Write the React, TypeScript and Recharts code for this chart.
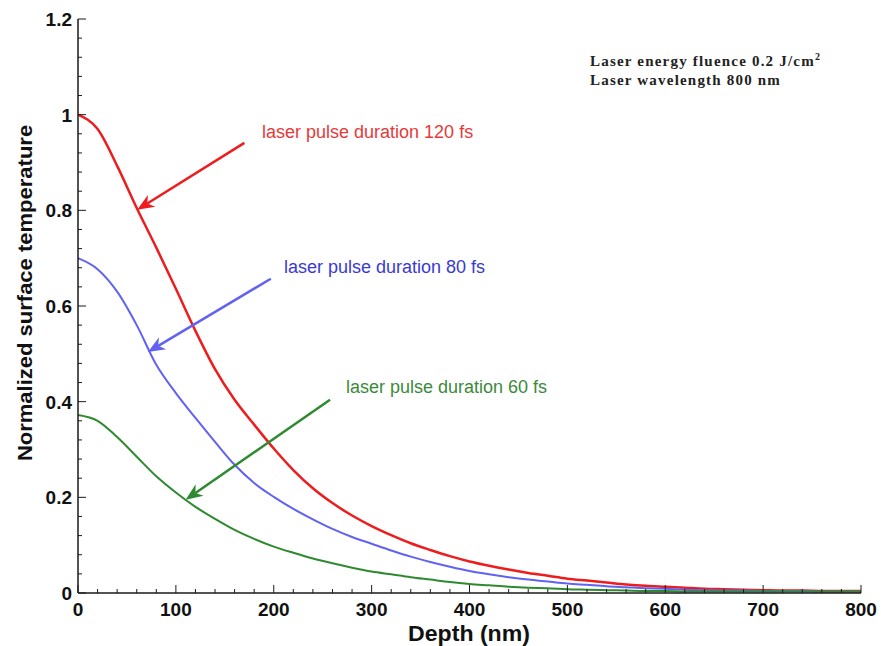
import React from 'react';
import { LineChart, Line, XAxis, YAxis, ReferenceLine } from 'recharts';

// depth grid (nm) and normalized surface temperature
const DEPTH = [
  0, 20, 40, 60, 80, 100, 120, 140, 160, 180, 200, 220, 240, 260, 280, 300, 320, 340, 360, 380, 400,
  420, 440, 460, 480, 500, 520, 540, 560, 580, 600, 620, 640, 660, 680, 700, 720, 740, 760, 780, 800,
];
const T120 = [
  1.0, 0.97, 0.893, 0.805, 0.722, 0.636, 0.548, 0.468, 0.404, 0.352, 0.302, 0.257, 0.219, 0.188, 0.162,
  0.14, 0.121, 0.104, 0.09, 0.077, 0.066, 0.057, 0.049, 0.042, 0.036, 0.03, 0.026, 0.022, 0.018, 0.015,
  0.013, 0.011, 0.009, 0.008, 0.007, 0.006, 0.005, 0.005, 0.004, 0.004, 0.004,
];
const T80 = [
  0.7, 0.677, 0.63, 0.56, 0.477, 0.418, 0.366, 0.316, 0.268, 0.23, 0.201, 0.176, 0.154, 0.134, 0.117,
  0.103, 0.089, 0.076, 0.065, 0.055, 0.046, 0.039, 0.033, 0.028, 0.024, 0.02, 0.017, 0.014, 0.012,
  0.01, 0.009, 0.007, 0.006, 0.005, 0.005, 0.004, 0.004, 0.004, 0.003, 0.003, 0.003,
];
const T60 = [
  0.372, 0.36, 0.326, 0.285, 0.244, 0.21, 0.18, 0.155, 0.132, 0.113, 0.097, 0.084, 0.072, 0.062, 0.053,
  0.045, 0.039, 0.033, 0.028, 0.023, 0.019, 0.016, 0.013, 0.011, 0.01, 0.008, 0.007, 0.006, 0.005,
  0.004, 0.004, 0.003, 0.003, 0.003, 0.003, 0.003, 0.003, 0.003, 0.003, 0.003, 0.003,
];

const X_MAJOR = [0, 100, 200, 300, 400, 500, 600, 700, 800];
const X_TICKS = Array.from({ length: 41 }, (_, i) => i * 20);
const Y_MAJOR = [0, 0.2, 0.4, 0.6, 0.8, 1, 1.2];
const Y_TICKS = Array.from({ length: 31 }, (_, i) => +(i * 0.04).toFixed(2));

const SERIES = [
  { key: 't120', color: '#ee1c1c', width: 2.5 },
  { key: 't80', color: '#6262f2', width: 2 },
  { key: 't60', color: '#2f8a2f', width: 2 },
];

// annotation arrows, in data units (tail -> tip)
const ARROWS = [
  { color: '#ee1c1c', from: { x: 170, y: 0.941 }, to: { x: 60.5, y: 0.801 } },
  { color: '#6262f2', from: { x: 197, y: 0.657 }, to: { x: 71.5, y: 0.504 } },
  { color: '#2f8a2f', from: { x: 257.5, y: 0.404 }, to: { x: 110, y: 0.195 } },
];

const LABELS = [
  { text: 'laser pulse duration 120 fs', color: '#e63a3a', left: 262, top: 122 },
  { text: 'laser pulse duration 80 fs', color: '#3a3ad2', left: 284, top: 257 },
  { text: 'laser pulse duration 60 fs', color: '#3b8a3b', left: 346, top: 377 },
];

const data = DEPTH.map((d, i) => ({ depth: d, t120: T120[i], t80: T80[i], t60: T60[i] }));

const SANS = '"Liberation Sans", Arial, sans-serif';
const AXIS = '#1a1a1a';
const isMajorY = (v: number) => Y_MAJOR.some((m) => Math.abs(m - v) < 1e-6);

function BottomTick({ x, y, payload }: any) {
  const major = X_MAJOR.includes(payload.value);
  return (
    <g>
      <line x1={x} x2={x} y1={y} y2={y - (major ? 8 : 4)} stroke={AXIS} />
      {major && (
        <text x={x} y={y + 23} textAnchor="middle" fontFamily={SANS} fontWeight="bold" fontSize={19} fill="#111">
          {payload.value}
        </text>
      )}
    </g>
  );
}

function TopTick({ x, y, payload }: any) {
  const major = X_MAJOR.includes(payload.value);
  return <line x1={x} x2={x} y1={y} y2={y + (major ? 8 : 4)} stroke={AXIS} />;
}

function LeftTick({ x, y, payload }: any) {
  const major = isMajorY(payload.value);
  return (
    <g>
      <line x1={x} x2={x + (major ? 8 : 4)} y1={y} y2={y} stroke={AXIS} />
      {major && (
        <text x={x - 6} y={y + 7} textAnchor="end" fontFamily={SANS} fontWeight="bold" fontSize={19} fill="#111">
          {String(payload.value)}
        </text>
      )}
    </g>
  );
}

function RightTick({ x, y, payload }: any) {
  const major = isMajorY(payload.value);
  return <line x1={x} x2={x - (major ? 8 : 4)} y1={y} y2={y} stroke={AXIS} />;
}

function Arrow({ x1, y1, x2, y2, color }: any) {
  const a = Math.atan2(y2 - y1, x2 - x1);
  const len = 17;
  const half = 7;
  const bx = x2 - len * Math.cos(a);
  const by = y2 - len * Math.sin(a);
  const nx = x2 - len * 0.7 * Math.cos(a);
  const ny = y2 - len * 0.7 * Math.sin(a);
  const px = -Math.sin(a) * half;
  const py = Math.cos(a) * half;
  return (
    <g>
      <line x1={x1} y1={y1} x2={nx} y2={ny} stroke={color} strokeWidth={2.5} />
      <polygon
        points={`${x2},${y2} ${bx + px},${by + py} ${nx},${ny} ${bx - px},${by - py}`}
        fill={color}
      />
    </g>
  );
}

export default function App() {
  return (
    <div style={{ position: 'absolute', left: 0, top: 0, width: 881, height: 646, background: '#fff' }}>
      <LineChart width={881} height={646} data={data} margin={{ top: 19, right: 20, bottom: 0, left: 0 }}>
        <XAxis
          dataKey="depth"
          type="number"
          domain={[0, 800]}
          ticks={X_TICKS}
          interval={0}
          height={53}
          tickSize={0}
          tickMargin={0}
          tickLine={false}
          tick={<BottomTick />}
          axisLine={{ stroke: AXIS, strokeWidth: 1.5 }}
        />
        <XAxis
          xAxisId="top"
          orientation="top"
          dataKey="depth"
          type="number"
          domain={[0, 800]}
          ticks={X_TICKS}
          interval={0}
          height={0}
          tickSize={0}
          tickMargin={0}
          tickLine={false}
          tick={<TopTick />}
          axisLine={{ stroke: AXIS, strokeWidth: 1.5 }}
        />
        <YAxis
          type="number"
          domain={[0, 1.2]}
          ticks={Y_TICKS}
          interval={0}
          width={78}
          tickSize={0}
          tickMargin={0}
          tickLine={false}
          tick={<LeftTick />}
          axisLine={{ stroke: AXIS, strokeWidth: 1.5 }}
        />
        <YAxis
          yAxisId="right"
          orientation="right"
          type="number"
          domain={[0, 1.2]}
          ticks={Y_TICKS}
          interval={0}
          width={0}
          tickSize={0}
          tickMargin={0}
          tickLine={false}
          tick={<RightTick />}
          axisLine={{ stroke: AXIS, strokeWidth: 1.5 }}
        />
        {SERIES.map((s) => (
          <Line
            key={s.key}
            dataKey={s.key}
            type="monotone"
            stroke={s.color}
            strokeWidth={s.width}
            dot={false}
            isAnimationActive={false}
          />
        ))}
        {ARROWS.map((a, i) => (
          <ReferenceLine
            key={i}
            segment={[a.from, a.to]}
            ifOverflow="visible"
            shape={(p: any) => <Arrow {...p} color={a.color} />}
          />
        ))}
      </LineChart>

      {LABELS.map((l) => (
        <div
          key={l.text}
          style={{
            position: 'absolute',
            left: l.left,
            top: l.top,
            color: l.color,
            fontFamily: SANS,
            fontSize: 18,
            lineHeight: '20px',
            whiteSpace: 'nowrap',
          }}
        >
          {l.text}
        </div>
      ))}

      <div
        style={{
          position: 'absolute',
          left: 590,
          top: 52,
          fontFamily: '"Liberation Serif", "Times New Roman", serif',
          fontWeight: 'bold',
          fontSize: 15,
          letterSpacing: 1.2,
          lineHeight: '19px',
          color: '#222',
          whiteSpace: 'nowrap',
        }}
      >
        <div>
          Laser energy fluence 0.2 J/cm<sup style={{ fontSize: 10, lineHeight: 0 }}>2</sup>
        </div>
        <div>Laser wavelength 800 nm</div>
      </div>

      <div
        style={{
          position: 'absolute',
          left: 25,
          top: 293,
          transform: 'translate(-50%, -50%) rotate(-90deg) scaleX(1.1)',
          fontFamily: SANS,
          fontWeight: 'bold',
          fontSize: 20,
          color: '#111',
          whiteSpace: 'nowrap',
        }}
      >
        Normalized surface temperature
      </div>
      <div
        style={{
          position: 'absolute',
          left: 469,
          top: 634,
          transform: 'translate(-50%, -50%) scaleX(1.05)',
          fontFamily: SANS,
          fontWeight: 'bold',
          fontSize: 22,
          color: '#111',
          whiteSpace: 'nowrap',
        }}
      >
        Depth (nm)
      </div>
    </div>
  );
}
